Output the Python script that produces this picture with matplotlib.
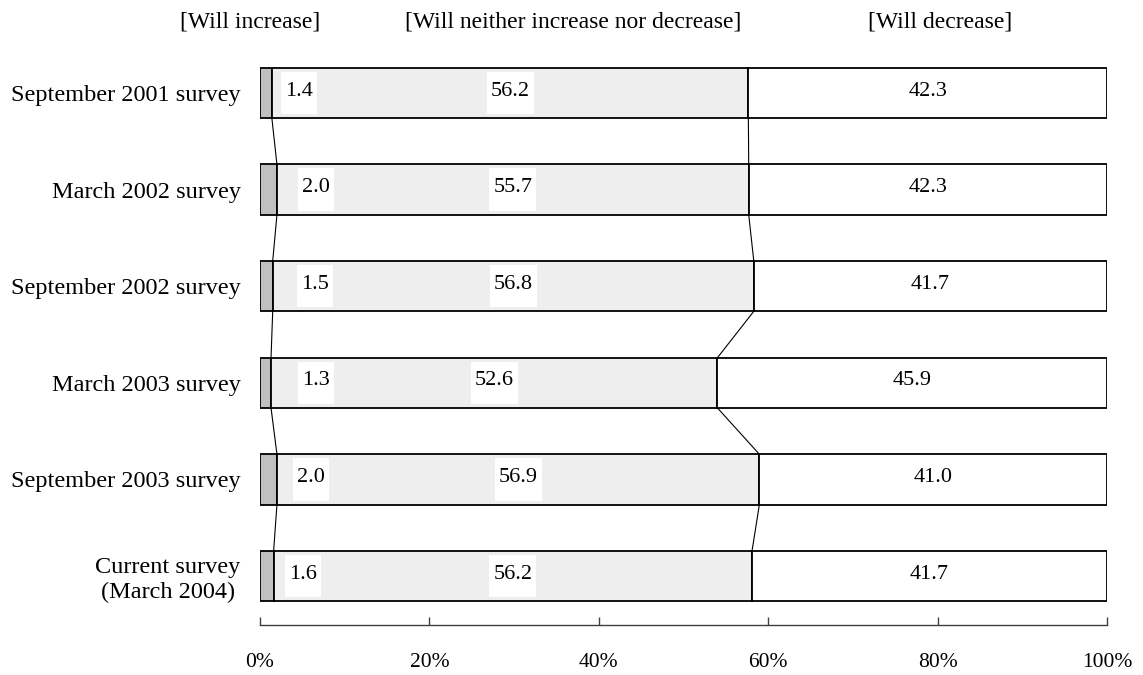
import matplotlib
matplotlib.use("Agg")
import matplotlib.pyplot as plt
from matplotlib.patches import Rectangle
import numpy as np

# Survey rounds (top to bottom) and answer shares in percent
surveys = [
    "September 2001 survey",
    "March 2002 survey",
    "September 2002 survey",
    "March 2003 survey",
    "September 2003 survey",
    "Current survey\n(March 2004)",
]
will_increase = [1.4, 2.0, 1.5, 1.3, 2.0, 1.6]
neither = [56.2, 55.7, 56.8, 52.6, 56.9, 56.2]
will_decrease = [42.3, 42.3, 41.7, 45.9, 41.0, 41.7]
category_names = ["[Will increase]", "[Will neither increase nor decrease]", "[Will decrease]"]
x_ticks = [0, 20, 40, 60, 80, 100]
x_tick_labels = ["0%", "20%", "40%", "60%", "80%", "100%"]

plt.rcParams["font.family"] = ["Liberation Serif", "DejaVu Serif"]

fig = plt.figure(figsize=(11.43, 6.75), dpi=100)
ax = fig.add_axes([260 / 1143, 1 - 625 / 675, 847 / 1143, 581 / 675])

n = len(surveys)
y = np.arange(n)
inc = np.array(will_increase)
mid = np.array(neither)
dec = np.array(will_decrease)

# 100% stacked: each bar is scaled so its three shares fill the full width
total = inc + mid + dec
inc_w = inc / total * 100
mid_w = mid / total * 100
dec_w = dec / total * 100
bar_h = 0.52

ax.barh(y, inc_w, height=bar_h, color="#c0c0c0", edgecolor="black", linewidth=1.3, zorder=2)
ax.barh(y, mid_w, left=inc_w, height=bar_h, color="#eeeeee", edgecolor="black", linewidth=1.3, zorder=2)
ax.barh(y, dec_w, left=inc_w + mid_w, height=bar_h, color="white", edgecolor="black", linewidth=1.3, zorder=2)

# Connector lines between the segment boundaries of adjacent bars
b1 = inc_w
b2 = inc_w + mid_w
for i in range(n - 1):
    for b in (b1, b2):
        ax.plot([b[i], b[i + 1]], [y[i] + bar_h / 2, y[i + 1] - bar_h / 2],
                color="black", linewidth=0.8, zorder=1)

ax.set_xlim(0, 100)
ax.set_ylim(n - 1 + 0.507, -0.507)

# Value labels
inc_label_x = [4.6, 6.6, 6.5, 6.6, 6.0, 5.1]
boxed = []
for i in range(n):
    t1 = ax.text(inc_label_x[i], y[i] - 0.02, f"{inc[i]:.1f}", ha="center", va="center",
                 fontsize=16, zorder=5)
    t2 = ax.text(inc_w[i] + mid_w[i] / 2, y[i] - 0.02, f"{mid[i]:.1f}", ha="center",
                 va="center", fontsize=16, zorder=5)
    ax.text(inc_w[i] + mid_w[i] + dec_w[i] / 2, y[i] - 0.02, f"{dec[i]:.1f}", ha="center",
            va="center", fontsize=16, zorder=5)
    boxed += [(t1, y[i]), (t2, y[i])]

# Axes styling
for side in ("top", "right", "left"):
    ax.spines[side].set_visible(False)
ax.spines["bottom"].set_color("#404040")
ax.spines["bottom"].set_linewidth(1.0)
ax.set_xticks(x_ticks)
ax.set_xticklabels(x_tick_labels, fontsize=15.5)
ax.tick_params(axis="x", direction="in", length=6, width=1.0, color="#404040", pad=20)
ax.set_yticks(y)
ax.set_yticklabels(surveys, fontsize=17.5, multialignment="center")
ax.tick_params(axis="y", length=0, pad=14)

# Category headers
header_x = [250, 573, 940]
for name, px in zip(category_names, header_x):
    fig.text(px / 1143, 1 - 22 / 675, name, ha="center", va="center", fontsize=17)

# White boxes behind the labels that sit on the shaded segments
fig.canvas.draw()
renderer = fig.canvas.get_renderer()
inv = ax.transData.inverted()
for t, yc in boxed:
    bb = t.get_window_extent(renderer)
    (x0, _), (x1, _) = inv.transform([(bb.x0 - 4, 0), (bb.x1 + 4, 0)])
    ax.add_patch(Rectangle((x0, yc - 0.22), x1 - x0, 0.44, facecolor="white",
                           edgecolor="none", zorder=4))

fig.savefig("out.png", dpi=100)
